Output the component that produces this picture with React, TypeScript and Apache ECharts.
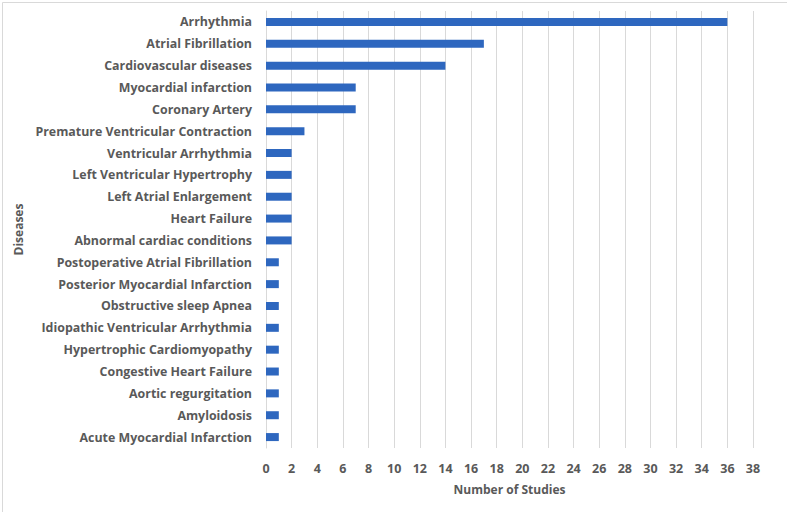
import React, { useEffect, useRef } from "react";
import * as echarts from "echarts";

const diseases = [
  "Arrhythmia",
  "Atrial Fibrillation",
  "Cardiovascular diseases",
  "Myocardial infarction",
  "Coronary Artery",
  "Premature Ventricular Contraction",
  "Ventricular Arrhythmia",
  "Left Ventricular Hypertrophy",
  "Left Atrial Enlargement",
  "Heart Failure",
  "Abnormal cardiac conditions",
  "Postoperative Atrial Fibrillation",
  "Posterior Myocardial Infarction",
  "Obstructive sleep Apnea",
  "Idiopathic Ventricular Arrhythmia",
  "Hypertrophic Cardiomyopathy",
  "Congestive Heart Failure",
  "Aortic regurgitation",
  "Amyloidosis",
  "Acute Myocardial Infarction",
];
const studies = [36, 17, 14, 7, 7, 3, 2, 2, 2, 2, 2, 1, 1, 1, 1, 1, 1, 1, 1, 1];
const xMin = 0;
const xMax = 38;
const xStep = 2;

export default function App() {
  const ref = useRef<HTMLDivElement>(null);
  useEffect(() => {
    if (!ref.current) return;
    const chart = echarts.init(ref.current, undefined, { renderer: "svg" });
    const font = "'Open Sans', Calibri, sans-serif";
    chart.setOption({
      animation: false,
      backgroundColor: "#ffffff",
      textStyle: { fontFamily: font },
      grid: { left: 266, right: 34, top: 11, bottom: 64, containLabel: false },
      xAxis: {
        type: "value",
        min: xMin,
        max: xMax,
        interval: xStep,
        name: "Number of Studies",
        nameLocation: "middle",
        nameGap: 35,
        nameTextStyle: { color: "#595959", fontSize: 12, fontWeight: "bold", fontFamily: font },
        axisLine: { show: false },
        axisTick: { show: false },
        axisLabel: { color: "#595959", fontSize: 12.5, fontWeight: "bold", margin: 14, fontFamily: font },
        splitLine: { show: true, lineStyle: { color: "#d9d9d9", width: 1 } },
      },
      yAxis: {
        type: "category",
        data: diseases,
        inverse: true,
        name: "Diseases",
        nameLocation: "middle",
        nameGap: 240,
        nameRotate: 90,
        nameTextStyle: { color: "#595959", fontSize: 12, fontWeight: "bold", fontFamily: font },
        axisLine: { show: true, lineStyle: { color: "#d9d9d9" } },
        axisTick: { show: false },
        axisLabel: { color: "#595959", fontSize: 12.4, fontWeight: "bold", margin: 14, fontFamily: font },
        splitLine: { show: false },
      },
      series: [
        {
          type: "bar",
          data: studies,
          barWidth: 8,
          itemStyle: { color: "#2e67bf" },
        },
      ],
      graphic: [
        {
          type: "rect",
          left: 0,
          top: 0,
          shape: { width: 786, height: 511 },
          style: { fill: "none", stroke: "#d9d9d9", lineWidth: 1 },
          silent: true,
        },
      ],
    });
    return () => chart.dispose();
  }, []);
  return (
    <div
      ref={ref}
      style={{ position: "fixed", left: 0, top: 0, width: 787, height: 512 }}
    />
  );
}
